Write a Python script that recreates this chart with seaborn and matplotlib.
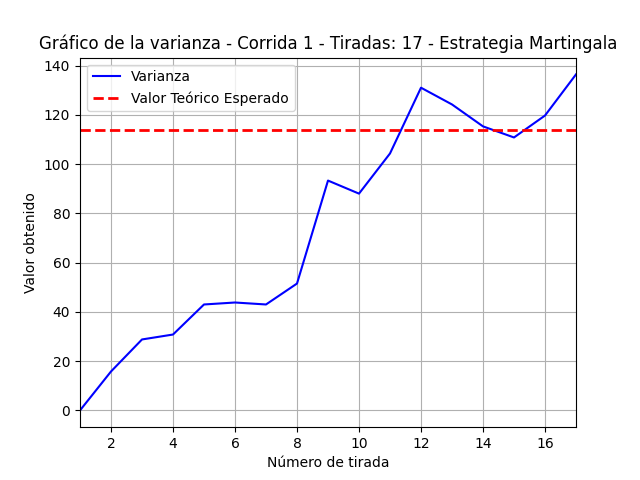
import seaborn as sns
import numpy as np
import matplotlib.pyplot as plt

tiradas = list(range(1, 18))
varianza = [0, 15.8, 28.8, 30.8, 43.0, 43.8, 43.0, 51.5, 93.3, 88.0,
            104.3, 131.0, 124.2, 115.3, 110.8, 119.7, 136.4]
valor_esperado = 114.0

fig, ax = plt.subplots(figsize=(6.4, 4.8), dpi=100)
sns.lineplot(x=tiradas, y=varianza, color='blue', label='Varianza', ax=ax)
ax.axhline(valor_esperado, color='red', linestyle='--', linewidth=2, label='Valor Teórico Esperado')
ax.set_xlim(1, 17)
ax.set_xticks(range(2, 18, 2))
ax.grid(True)
ax.set_title('Gráfico de la varianza - Corrida 1 - Tiradas: 17 - Estrategia Martingala')
ax.set_xlabel('Número de tirada')
ax.set_ylabel('Valor obtenido')
ax.legend(loc='upper left')
fig.savefig('out.png')
